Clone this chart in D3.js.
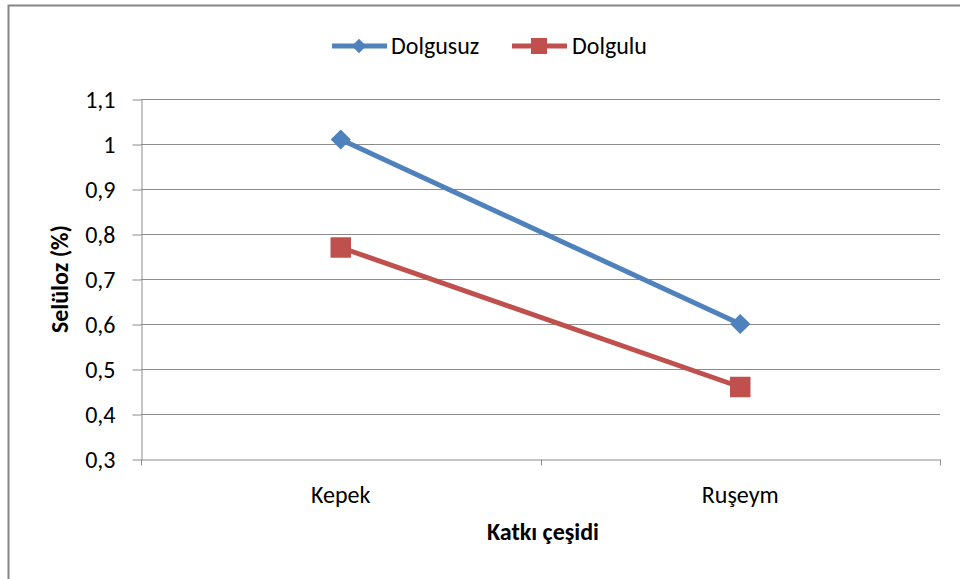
<!DOCTYPE html>
<html lang="tr">
<head>
<meta charset="utf-8">
<title>Selüloz</title>
<script src="https://cdn.jsdelivr.net/npm/d3@7"></script>
<style>
  body { margin: 0; background: #fff; }
  text { font-family: Carlito, Calibri, "Liberation Sans Narrow", "Open Sans", sans-serif; fill: #000; }
</style>
</head>
<body>
<script>
var categories = ["Kepek", "Ruşeym"];
var dolgusuz = [1.01, 0.60];
var dolgulu = [0.77, 0.46];
var yTicks = [0.3, 0.4, 0.5, 0.6, 0.7, 0.8, 0.9, 1.0, 1.1];
var seriesNames = ["Dolgusuz", "Dolgulu"];
var colors = ["#4F81BD", "#C0504D"];

var w = 960, h = 579;
var fs = "24px";

var svg = d3.select("body").append("svg")
  .attr("width", w).attr("height", h);

// outer chart border
svg.append("rect")
  .attr("x", 8.5).attr("y", 5.5)
  .attr("width", w + 10).attr("height", h + 10)
  .attr("fill", "none").attr("stroke", "#868686").attr("stroke-width", 2);

var xScale = d3.scaleBand().domain(categories).range([141, 940]);
var yScale = d3.scaleLinear().domain([0.3, 1.1]).range([459, 99]);

var fmt = function (v) { return (Math.round(v * 10) / 10).toString().replace(".", ","); };

// gridlines
svg.append("g").selectAll("line")
  .data(yTicks.slice(1))
  .enter().append("line")
  .attr("x1", 141).attr("x2", 940)
  .attr("y1", function (d) { return Math.round(yScale(d)) + 0.5; })
  .attr("y2", function (d) { return Math.round(yScale(d)) + 0.5; })
  .attr("stroke", "#8c8c8c").attr("stroke-width", 1);

var yAxis = d3.axisLeft(yScale).tickValues(yTicks).tickFormat(fmt)
  .tickSize(9).tickPadding(17).tickSizeOuter(0);
var gy = svg.append("g").attr("transform", "translate(141.5,0.5)").call(yAxis);
gy.select(".domain").attr("stroke", "#8c8c8c");
gy.selectAll(".tick line").attr("stroke", "#8c8c8c");
gy.selectAll("text").style("font-size", fs).attr("fill", "#222");

var xAxis = d3.axisBottom(xScale).tickSize(0).tickPadding(26).tickSizeOuter(0);
var gx = svg.append("g").attr("transform", "translate(0,459.5)").call(xAxis);
gx.select(".domain").attr("stroke", "#8c8c8c");
gx.selectAll("text").style("font-size", fs).attr("fill", "#222");
// category boundary ticks
var bounds = [xScale.range()[0]].concat(categories.map(function (c) { return xScale(c) + xScale.bandwidth(); }));
gx.selectAll(".bnd").data(bounds).enter().append("line")
  .attr("x1", function (d) { return Math.round(d) + 0.5; })
  .attr("x2", function (d) { return Math.round(d) + 0.5; })
  .attr("y1", 0).attr("y2", 6)
  .attr("stroke", "#8c8c8c");

var cx = function (c) { return xScale(c) + xScale.bandwidth() / 2; };
var line = d3.line()
  .x(function (d, i) { return cx(categories[i]); })
  .y(function (d) { return yScale(d); });

var diamond = d3.symbol().type(d3.symbolDiamond2).size(260);
var square = d3.symbol().type(d3.symbolSquare).size(420);

[dolgusuz, dolgulu].forEach(function (vals, s) {
  svg.append("path").datum(vals)
    .attr("d", line).attr("fill", "none")
    .attr("stroke", colors[s]).attr("stroke-width", 5);
  svg.selectAll(".m" + s).data(vals).enter().append("path")
    .attr("transform", function (d, i) { return "translate(" + cx(categories[i]) + "," + yScale(d) + ")"; })
    .attr("d", s === 0 ? diamond : square)
    .attr("fill", colors[s]);
});

// legend
var legendItems = [{x: 332, tx: 391}, {x: 512, tx: 572}];
legendItems.forEach(function (it, s) {
  var g = svg.append("g");
  g.append("line").attr("x1", it.x).attr("x2", it.x + 55)
    .attr("y1", 46).attr("y2", 46)
    .attr("stroke", colors[s]).attr("stroke-width", 5);
  g.append("path")
    .attr("transform", "translate(" + (it.x + 27) + ",46)")
    .attr("d", s === 0 ? d3.symbol().type(d3.symbolDiamond2).size(130) : d3.symbol().type(d3.symbolSquare).size(256))
    .attr("fill", colors[s]);
  g.append("text").attr("x", it.tx).attr("y", 54)
    .style("font-size", fs).attr("fill", "#222").text(seriesNames[s]);
});

// axis titles
svg.append("text")
  .attr("transform", "translate(68,279) rotate(-90)")
  .attr("text-anchor", "middle")
  .style("font-size", fs).style("font-weight", "bold")
  .text("Selüloz (%)");

svg.append("text")
  .attr("x", 543).attr("y", 540)
  .attr("text-anchor", "middle")
  .style("font-size", fs).style("font-weight", "bold")
  .text("Katkı çeşidi");
</script>
</body>
</html>
